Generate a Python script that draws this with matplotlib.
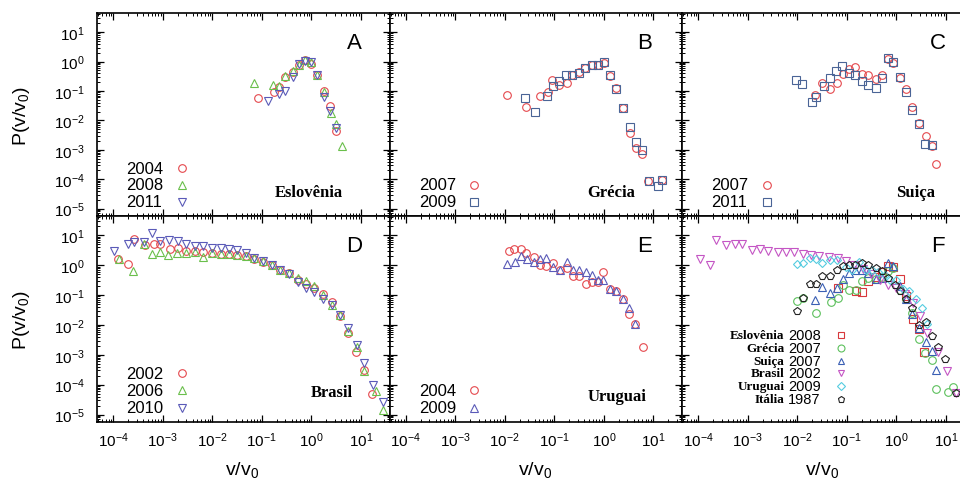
import matplotlib
matplotlib.use('Agg')
import matplotlib.pyplot as plt
from matplotlib.ticker import LogLocator, NullFormatter

plt.rcParams['font.family'] = ['Liberation Sans', 'DejaVu Sans']
plt.rcParams['mathtext.fontset'] = 'custom'
plt.rcParams['mathtext.rm'] = 'Liberation Sans'

# ---- panel A: Eslovenia ----
a04_x = [0.085, 0.174, 0.224, 0.30, 0.42, 0.56, 0.74, 0.98, 1.32, 1.83, 2.4, 3.16]
a04_y = [0.059, 0.093, 0.14, 0.30, 0.44, 0.74, 1.09, 0.85, 0.36, 0.10, 0.032, 0.0045]
a08_x = [0.069, 0.17, 0.22, 0.30, 0.42, 0.56, 0.74, 0.98, 1.32, 1.83, 2.5, 3.16, 4.25]
a08_y = [0.19, 0.155, 0.15, 0.32, 0.47, 0.74, 1.09, 0.96, 0.36, 0.093, 0.018, 0.0075, 0.00135]
a11_x = [0.132, 0.22, 0.30, 0.42, 0.56, 0.74, 0.98, 1.32, 1.83, 2.4, 3.1]
a11_y = [0.047, 0.077, 0.10, 0.30, 0.83, 1.07, 1.0, 0.36, 0.06, 0.021, 0.0054]

# ---- panel B: Grecia ----
b07_x = [0.0112, 0.027, 0.052, 0.074, 0.091, 0.126, 0.18, 0.23, 0.31, 0.41, 0.57, 0.76, 1.0,
         1.36, 1.8, 2.4, 3.35, 4.45, 6.0, 7.8, 14.8]
b07_y = [0.072, 0.028, 0.065, 0.095, 0.24, 0.155, 0.19, 0.34, 0.44, 0.60, 0.74, 0.74, 0.91,
         0.32, 0.13, 0.027, 0.0038, 0.00113, 0.00071, 8.5e-5, 9.2e-5]
b09_x = [0.025, 0.041, 0.07, 0.096, 0.127, 0.17, 0.23, 0.31, 0.41, 0.57, 0.76, 1.0,
         1.36, 1.8, 2.4, 3.35, 4.45, 6.0, 8.2, 12.7, 14.8]
b09_y = [0.056, 0.020, 0.068, 0.15, 0.21, 0.36, 0.34, 0.42, 0.60, 0.74, 0.74, 0.96,
         0.34, 0.115, 0.027, 0.0059, 0.0018, 0.00097, 8.5e-5, 6.0e-5, 9.2e-5]

# ---- panel C: Suica ----
c07_x = [0.023, 0.032, 0.046, 0.063, 0.083, 0.11, 0.148, 0.20, 0.27, 0.38, 0.51, 0.68, 0.87,
         1.18, 1.59, 2.1, 2.9, 3.9, 5.3, 6.4]
c07_y = [0.072, 0.19, 0.12, 0.19, 0.39, 0.57, 0.63, 0.38, 0.34, 0.26, 0.36, 1.25, 0.89,
         0.27, 0.118, 0.028, 0.008, 0.0029, 0.00135, 0.00032]
c11_x = [0.0096, 0.0124, 0.020, 0.024, 0.035, 0.046, 0.06, 0.081, 0.11, 0.148, 0.20, 0.27,
         0.38, 0.51, 0.68, 0.87, 1.18, 1.59, 2.1, 2.9, 3.8, 5.2]
c11_y = [0.24, 0.17, 0.043, 0.063, 0.144, 0.28, 0.49, 0.71, 0.42, 0.35, 0.22, 0.165,
         0.123, 0.27, 1.31, 1.0, 0.29, 0.093, 0.022, 0.0073, 0.0016, 0.0015]

# ---- panel D: Brasil ----
d02_x = [1.26e-4, 1.95e-4, 2.6e-4, 4.3e-4, 6.5e-4, 8.9e-4, 1.4e-3, 2.0e-3, 2.9e-3, 4.4e-3,
         6.6e-3, 9.8e-3, 0.0148, 0.022, 0.032, 0.048, 0.071, 0.105, 0.158, 0.235, 0.355,
         0.54, 0.78, 1.15, 1.7, 2.6, 3.8, 5.5, 8.0, 11.6, 17]
d02_y = [1.66, 1.12, 7.4, 4.8, 5.3, 5.3, 3.4, 3.9, 3.0, 2.9, 2.8, 2.65, 2.45, 2.35, 2.25,
         2.03, 1.66, 1.32, 0.99, 0.72, 0.53, 0.33, 0.24, 0.17, 0.11, 0.057, 0.0205, 0.0055,
         0.0012, 3.0e-4, 4.9e-5]
d06_x = [1.3e-4, 2.45e-4, 4.1e-4, 6.0e-4, 8.7e-4, 1.3e-3, 1.9e-3, 2.9e-3, 4.4e-3, 6.6e-3,
         9.8e-3, 0.0148, 0.022, 0.032, 0.048, 0.071, 0.105, 0.158, 0.235, 0.355, 0.54, 0.78,
         1.15, 1.7, 2.6, 3.8, 5.5, 8.2, 11.6, 20, 28]
d06_y = [1.6, 0.66, 5.3, 2.45, 2.8, 2.26, 2.65, 2.5, 2.8, 1.88, 2.65, 2.45, 2.35, 2.25, 2.03,
         1.75, 1.38, 1.0, 0.72, 0.53, 0.38, 0.29, 0.195, 0.10, 0.045, 0.021, 0.0063, 0.0019,
         2.9e-4, 6.3e-5, 1.45e-5]
d10_x = [1.05e-4, 2.0e-4, 2.6e-4, 4.1e-4, 6.0e-4, 8.7e-4, 1.35e-3, 2.0e-3, 2.9e-3, 4.4e-3,
         6.6e-3, 9.8e-3, 0.0148, 0.022, 0.032, 0.048, 0.071, 0.105, 0.158, 0.235, 0.355, 0.54,
         0.78, 1.15, 1.7, 2.6, 3.8, 5.5, 8.2, 11.6, 17.5, 28]
d10_y = [3.0, 5.3, 6.2, 6.0, 11.8, 6.5, 7.0, 6.5, 5.0, 4.4, 4.3, 3.9, 3.7, 3.4, 3.16, 2.65,
         1.75, 1.38, 1.0, 0.72, 0.5, 0.27, 0.17, 0.123, 0.077, 0.045, 0.021, 0.0078, 0.0021,
         5.5e-4, 1.0e-4, 2.6e-5]

# ---- panel E: Uruguai ----
e04_x = [0.012, 0.015, 0.021, 0.027, 0.039, 0.052, 0.069, 0.096, 0.129, 0.18, 0.24, 0.32,
         0.43, 0.58, 0.76, 0.98, 1.36, 1.8, 2.45, 3.2, 4.2, 6.3]
e04_y = [3.0, 3.6, 3.4, 2.65, 1.94, 1.0, 0.95, 1.21, 0.68, 0.83, 0.45, 0.45, 0.24, 0.27,
         0.27, 0.60, 0.165, 0.14, 0.074, 0.023, 0.0108, 0.0019]
e09_x = [0.0112, 0.016, 0.021, 0.028, 0.039, 0.052, 0.069, 0.096, 0.129, 0.18, 0.24, 0.32,
         0.43, 0.58, 0.76, 0.98, 1.36, 1.8, 2.45, 3.3, 4.2]
e09_y = [1.12, 1.32, 2.03, 1.66, 1.3, 1.66, 1.7, 0.87, 0.68, 1.3, 0.68, 0.68, 0.59, 0.46,
         0.33, 0.32, 0.16, 0.14, 0.075, 0.037, 0.0108]

# ---- panel F: comparison ----
f_eslo_x = [0.065, 0.15, 0.20, 0.27, 0.38, 0.51, 0.68, 0.87, 1.18, 1.59, 2.2, 2.9, 3.7]
f_eslo_y = [0.17, 0.14, 0.126, 0.29, 0.42, 0.6, 0.95, 0.85, 0.35, 0.09, 0.016, 0.0075, 0.00125]
f_grec_x = [0.0098, 0.013, 0.024, 0.047, 0.065, 0.085, 0.112, 0.15, 0.20, 0.27, 0.38, 0.51,
            0.68, 0.87, 1.18, 1.59, 2.1, 2.9, 3.8, 5.2, 6.4, 11, 14]
f_grec_y = [0.065, 0.083, 0.025, 0.060, 0.083, 0.21, 0.144, 0.15, 0.29, 0.38, 0.35, 0.40,
            0.63, 0.83, 0.144, 0.075, 0.025, 0.0035, 0.00115, 6.6e-4, 7.3e-5, 5.6e-5, 8.3e-5]
f_suic_x = [0.023, 0.032, 0.046, 0.063, 0.083, 0.11, 0.148, 0.20, 0.27, 0.38, 0.51, 0.68,
            0.87, 1.18, 1.59, 2.1, 2.9, 3.9, 5.3, 6.4]
f_suic_y = [0.07, 0.18, 0.118, 0.17, 0.35, 0.56, 0.72, 0.72, 0.56, 0.35, 0.38, 1.2, 0.95,
            0.2, 0.075, 0.023, 0.0078, 0.0027, 0.0013, 3.0e-4]
f_bras_x = [1.08e-4, 1.7e-4, 2.3e-4, 3.7e-4, 5.4e-4, 7.8e-4, 1.2e-3, 1.8e-3, 2.6e-3, 4.0e-3,
            5.9e-3, 8.7e-3, 0.013, 0.019, 0.028, 0.043, 0.065, 0.095, 0.14, 0.21, 0.31, 0.46,
            0.69, 1.0, 1.5, 2.2, 3.0, 4.1, 7.1, 10.4, 16]
f_bras_y = [1.58, 1.0, 7.0, 4.7, 5.0, 5.0, 3.2, 3.4, 2.9, 2.8, 2.8, 2.8, 2.45, 2.2, 2.1, 1.9,
            1.7, 1.35, 1.0, 0.75, 0.52, 0.33, 0.22, 0.17, 0.11, 0.055, 0.02, 0.0053, 0.0012,
            2.9e-4, 5.1e-5]
f_urug_x = [0.0098, 0.013, 0.018, 0.024, 0.032, 0.045, 0.063, 0.096, 0.129, 0.18, 0.24, 0.32,
            0.43, 0.58, 0.76, 0.98, 1.36, 1.8, 2.45, 3.3, 4.2]
f_urug_y = [1.12, 1.2, 1.8, 1.66, 1.2, 1.55, 1.55, 0.87, 0.68, 1.3, 0.68, 0.68, 0.59, 0.46,
            0.33, 0.32, 0.16, 0.14, 0.075, 0.037, 0.0108]
f_ital_x = [0.010, 0.013, 0.018, 0.024, 0.032, 0.046, 0.063, 0.083, 0.11, 0.148, 0.20, 0.27,
            0.38, 0.51, 0.68, 0.93, 1.18, 1.59, 2.1, 2.9, 4.0, 5.3, 7.0, 9.8, 16]
f_ital_y = [0.030, 0.083, 0.24, 0.23, 0.43, 0.43, 0.68, 0.93, 1.0, 1.05, 1.15, 1.05, 0.78,
            0.66, 0.38, 0.22, 0.133, 0.075, 0.038, 0.01, 0.0126, 0.0044, 0.0018, 7e-4, 5.1e-5]

RED = '#e5484d'
GREEN = '#6abf4b'
BLUE_T = '#5a5ab8'
BLUE_S = '#4a6496'

fig = plt.figure(figsize=(9.6, 4.89), dpi=100)
W, H = 960.0, 489.0
col_left = [97, 389.5, 682]
col_w = 292.5
rows = [(14, 217), (217, 423)]

axes = []
for r, (top, bot) in enumerate(rows):
    for c in range(3):
        ax = fig.add_axes([col_left[c] / W, 1 - bot / H, col_w / W, (bot - top) / H])
        ax.set_xscale('log')
        ax.set_yscale('log')
        ax.set_xlim(10 ** -4.33, 10 ** 1.58)
        ax.set_ylim(10 ** -5.25, 10 ** 1.65)
        ax.xaxis.set_major_locator(LogLocator(base=10, numticks=20))
        ax.yaxis.set_major_locator(LogLocator(base=10, numticks=20))
        ax.xaxis.set_minor_locator(LogLocator(base=10, subs=range(2, 10), numticks=100))
        ax.yaxis.set_minor_locator(LogLocator(base=10, subs=range(2, 10), numticks=100))
        ax.xaxis.set_minor_formatter(NullFormatter())
        ax.yaxis.set_minor_formatter(NullFormatter())
        ax.tick_params(which='both', direction='in', top=True, right=True, labelsize=11)
        ax.tick_params(which='major', length=5, width=0.9)
        ax.tick_params(which='minor', length=2.5, width=0.7)
        ax.tick_params(axis='x', pad=6)
        ax.tick_params(axis='y', pad=9)
        for s in ax.spines.values():
            s.set_linewidth(1.2)
        if c > 0:
            ax.tick_params(labelleft=False)
        if r == 0:
            ax.tick_params(labelbottom=False)
        axes.append(ax)

axA, axB, axC, axD, axE, axF = axes

mk = dict(linestyle='none', markerfacecolor='none', markersize=5.5, markeredgewidth=0.8)


def pts(ax, x, y, marker, color):
    ax.plot(x, y, marker=marker, color=color, markeredgecolor=color, **mk)


def key(ax, entries):
    n = len(entries)
    for i, (lab, marker, color) in enumerate(entries):
        yy = 0.07 + 0.083 * (n - 1 - i)
        ax.text(0.10, yy, lab, transform=ax.transAxes, fontsize=12, va='center')
        ax.plot([0.29], [yy], transform=ax.transAxes, marker=marker, color=color,
                markeredgecolor=color, **mk)


def country(ax, name, x, y):
    ax.text(x, y, name, transform=ax.transAxes, ha='right', va='center', fontsize=12,
            fontweight='bold', family='Liberation Serif')


def letter(ax, s, x):
    ax.text(x, 0.857, s, transform=ax.transAxes, ha='center', va='center', fontsize=16)


pts(axA, a04_x, a04_y, 'o', RED)
pts(axA, a08_x, a08_y, '^', GREEN)
pts(axA, a11_x, a11_y, 'v', BLUE_T)
key(axA, [('2004', 'o', RED), ('2008', '^', GREEN), ('2011', 'v', BLUE_T)])
country(axA, 'Eslovênia', 0.84, 0.118)
letter(axA, 'A', 0.88)

pts(axB, b07_x, b07_y, 'o', RED)
pts(axB, b09_x, b09_y, 's', BLUE_S)
key(axB, [('2007', 'o', RED), ('2009', 's', BLUE_S)])
country(axB, 'Grécia', 0.84, 0.118)
letter(axB, 'B', 0.873)

pts(axC, c07_x, c07_y, 'o', RED)
pts(axC, c11_x, c11_y, 's', BLUE_S)
key(axC, [('2007', 'o', RED), ('2011', 's', BLUE_S)])
country(axC, 'Suiça', 0.865, 0.118)
letter(axC, 'C', 0.876)

pts(axD, d02_x, d02_y, 'o', RED)
pts(axD, d06_x, d06_y, '^', GREEN)
pts(axD, d10_x, d10_y, 'v', BLUE_T)
key(axD, [('2002', 'o', RED), ('2006', '^', GREEN), ('2010', 'v', BLUE_T)])
country(axD, 'Brasil', 0.876, 0.146)
letter(axD, 'D', 0.88)

pts(axE, e04_x, e04_y, 'o', RED)
pts(axE, e09_x, e09_y, '^', BLUE_T)
key(axE, [('2004', 'o', RED), ('2009', '^', BLUE_T)])
country(axE, 'Uruguai', 0.877, 0.127)
letter(axE, 'E', 0.873)

f_series = [
    ('Eslovênia', '2008', f_eslo_x, f_eslo_y, 's', '#d8383c'),
    ('Grécia', '2007', f_grec_x, f_grec_y, 'o', '#5cc05c'),
    ('Suiça', '2007', f_suic_x, f_suic_y, '^', '#3a5fb4'),
    ('Brasil', '2002', f_bras_x, f_bras_y, 'v', '#c455c4'),
    ('Uruguai', '2009', f_urug_x, f_urug_y, 'D', '#55cce0'),
    ('Itália', '1987', f_ital_x, f_ital_y, 'p', '#222222'),
]
for i, (name, yr, x, y, marker, color) in enumerate(f_series):
    if marker == 'D':
        axF.plot(x, y, marker=marker, color=color, markeredgecolor=color,
                 linestyle='none', markerfacecolor='none', markersize=4.2, markeredgewidth=0.8)
    else:
        pts(axF, x, y, marker, color)
    yy = 0.42 - 0.0615 * i
    axF.text(0.35, yy, name, transform=axF.transAxes, ha='right', va='center', fontsize=9.5,
             fontweight='bold', family='Liberation Serif')
    axF.text(0.362, yy, yr, transform=axF.transAxes, ha='left', va='center', fontsize=10.5)
    axF.plot([0.545], [yy], transform=axF.transAxes, marker=marker, color=color,
             markeredgecolor=color, linestyle='none', markerfacecolor='none',
             markersize=4.2 if marker == 'D' else 5, markeredgewidth=0.8)
letter(axF, 'F', 0.876)

for top, bot in rows:
    fig.text(22 / W, 1 - (top + bot) / 2 / H, 'P(v/v$_0$)', rotation=90, ha='center',
             va='center', fontsize=14)
for cx in [242, 535, 822]:
    fig.text(cx / W, 1 - 471 / H, 'v/v$_0$', ha='center', va='center', fontsize=14)

fig.savefig('out.png', dpi=100)
